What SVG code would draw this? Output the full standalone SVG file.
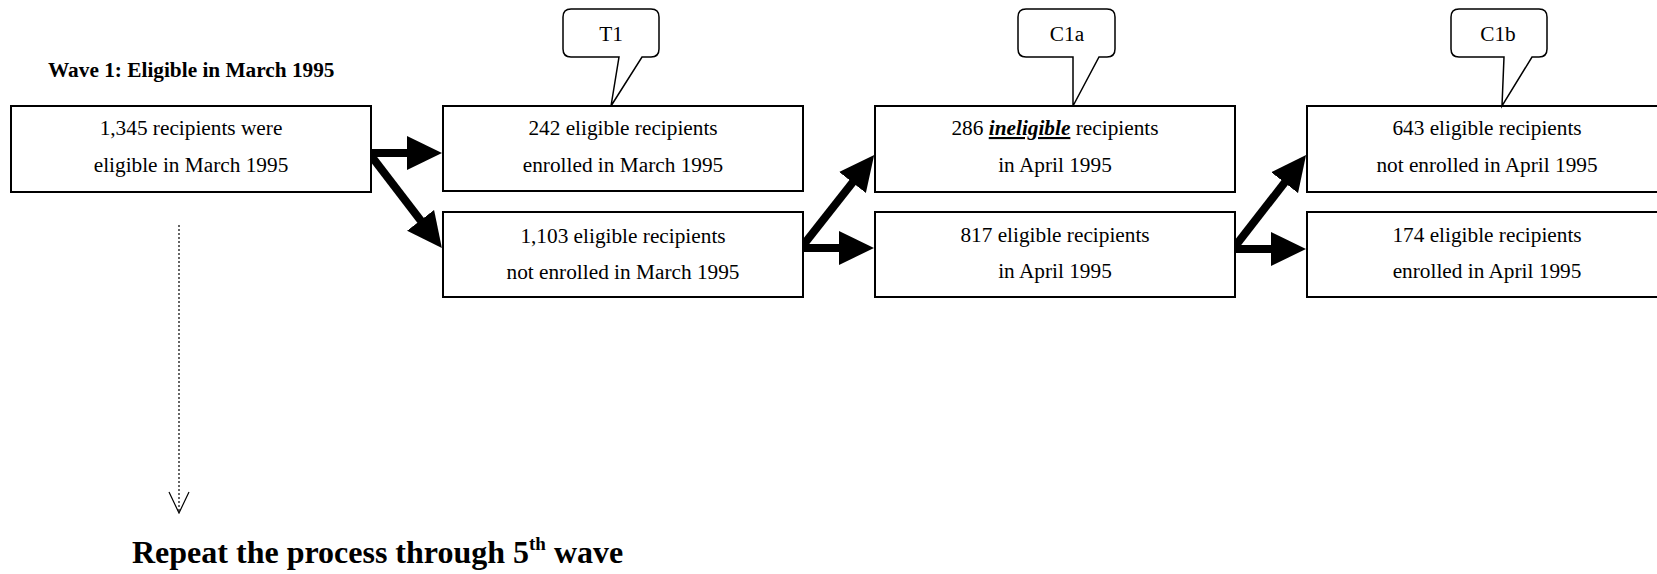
<svg xmlns="http://www.w3.org/2000/svg" width="1657" height="574" viewBox="0 0 1657 574">
<style>
.box{fill:#fff;stroke:#000;stroke-width:2}
.t{font-family:"Liberation Serif","Times New Roman",serif;font-size:21.3px;fill:#000;text-anchor:middle}
.call{fill:#fff;stroke:#000;stroke-width:1.5}
.arr{stroke:#000;stroke-width:8;fill:none;marker-end:url(#ah)}
.h{font-family:"Liberation Serif","Times New Roman",serif;font-weight:bold;fill:#000}
</style>
<defs>
<marker id="ah" markerUnits="userSpaceOnUse" markerWidth="36" markerHeight="36" viewBox="0 -18 36 36" refX="15" refY="0" orient="auto">
<path d="M0,-17 L35,0 L0,17 Z" fill="#000"/>
</marker>
<marker id="vh" markerUnits="userSpaceOnUse" markerWidth="24" markerHeight="24" viewBox="-2 -12 24 24" refX="21" refY="0" orient="auto">
<path d="M0,-10 L21,0 L0,10" fill="none" stroke="#000" stroke-width="1.2"/>
</marker>
</defs>
<rect width="1657" height="574" fill="#fff"/>
<text class="h" x="48" y="77" font-size="21.3">Wave 1: Eligible in March 1995</text>
<g id="connectors">
<line class="arr" x1="369" y1="153" x2="422" y2="153"/>
<line class="arr" x1="369" y1="153" x2="429.7" y2="232.2"/>
<line class="arr" x1="801" y1="248" x2="854" y2="248"/>
<line class="arr" x1="801" y1="248" x2="861.8" y2="170.8"/>
<line class="arr" x1="1233" y1="249" x2="1286" y2="249"/>
<line class="arr" x1="1233" y1="249" x2="1293.8" y2="170.8"/>
<line x1="179" y1="225" x2="179" y2="513" stroke="#000" stroke-width="1.2" stroke-dasharray="2,2" marker-end="url(#vh)"/>
</g>
<g id="n0"><rect class="box" x="11" y="106" width="360" height="86"/>
<text class="t" x="191" y="135">1,345 recipients were</text><text class="t" x="191" y="172">eligible in March 1995</text></g>
<g id="n1"><rect class="box" x="443" y="106" width="360" height="85"/>
<text class="t" x="623" y="135">242 eligible recipients</text><text class="t" x="623" y="172">enrolled in March 1995</text></g>
<g id="n2"><rect class="box" x="443" y="212" width="360" height="85"/>
<text class="t" x="623" y="243">1,103 eligible recipients</text><text class="t" x="623" y="279">not enrolled in March 1995</text></g>
<g id="n3"><rect class="box" x="875" y="106" width="360" height="86"/>
<text class="t" x="1055" y="135">286 <tspan font-weight="bold" font-style="italic" text-decoration="underline">ineligible</tspan> recipients</text><text class="t" x="1055" y="172">in April 1995</text></g>
<g id="n4"><rect class="box" x="875" y="212" width="360" height="85"/>
<text class="t" x="1055" y="242">817 eligible recipients</text><text class="t" x="1055" y="278">in April 1995</text></g>
<g id="n5"><rect class="box" x="1307" y="106" width="360" height="86"/>
<text class="t" x="1487" y="135">643 eligible recipients</text><text class="t" x="1487" y="172">not enrolled in April 1995</text></g>
<g id="n6"><rect class="box" x="1307" y="212" width="360" height="85"/>
<text class="t" x="1487" y="242">174 eligible recipients</text><text class="t" x="1487" y="278">enrolled in April 1995</text></g>
<g id="callT1"><path class="call" d="M571,9 H651 Q659,9 659,17 V49 Q659,57 651,57 H642 L611,106 L619,57 H571 Q563,57 563,49 V17 Q563,9 571,9 Z"/>
<text class="t" x="611" y="41">T1</text></g>
<g id="callC1a"><path class="call" d="M1026,9 H1107 Q1115,9 1115,17 V49 Q1115,57 1107,57 H1099 L1073,106 L1073,57 H1026 Q1018,57 1018,49 V17 Q1018,9 1026,9 Z"/>
<text class="t" x="1067" y="41">C1a</text></g>
<g id="callC1b"><path class="call" d="M1459,9 H1539 Q1547,9 1547,17 V49 Q1547,57 1539,57 H1532 L1502,106 L1504,57 H1459 Q1451,57 1451,49 V17 Q1451,9 1459,9 Z"/>
<text class="t" x="1498" y="41">C1b</text></g>
<text class="h" x="132" y="563" font-size="32">Repeat the process through 5<tspan font-size="19" dy="-13">th</tspan><tspan dy="13"> wave</tspan></text>
</svg>
